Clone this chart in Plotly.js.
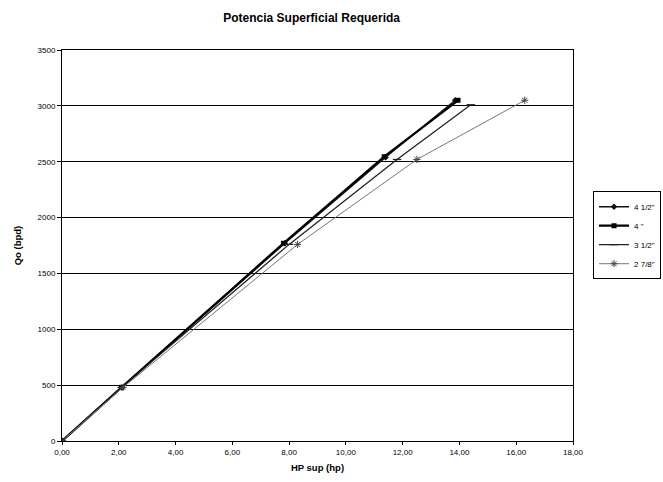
<!DOCTYPE html>
<html>
<head>
<meta charset="utf-8">
<script src="https://cdn.plot.ly/plotly-3.0.1.min.js"></script>
<style>html,body{margin:0;padding:0;background:#fff;}#chart{width:663px;height:482px;}</style>
</head>
<body>
<div id="chart"></div>
<script>
// Data
const seriesNames = ['4 1/2"', '4 "', '3 1/2"', '2 7/8"'];
const hp_4_1_2 = [0, 2.1, 7.85, 11.4, 13.85];
const qo_4_1_2 = [0, 480, 1770, 2540, 3050];
const hp_4 = [0, 2.1, 7.8, 11.35, 13.95];
const qo_4 = [0, 480, 1770, 2545, 3050];
const hp_3_1_2 = [0, 2.1, 8.0, 11.8, 14.4];
const qo_3_1_2 = [0, 480, 1760, 2520, 3010];
const hp_2_7_8 = [0, 2.15, 8.3, 12.5, 16.3];
const qo_2_7_8 = [0, 480, 1760, 2520, 3050];
const xTicks = [0, 2, 4, 6, 8, 10, 12, 14, 16, 18];
const yTicks = [0, 500, 1000, 1500, 2000, 2500, 3000, 3500];

const traces = [
  {x: hp_4_1_2, y: qo_4_1_2, name: seriesNames[0], mode: 'lines+markers',
   line: {color: '#111', width: 1.5}, marker: {symbol: 'diamond', size: 5, color: '#111'}},
  {x: hp_4, y: qo_4, name: seriesNames[1], mode: 'lines+markers',
   line: {color: '#000', width: 2.2}, marker: {symbol: 'square', size: 5, color: '#000'}},
  {x: hp_3_1_2, y: qo_3_1_2, name: seriesNames[2], mode: 'lines+markers',
   line: {color: '#222', width: 1.3}, marker: {symbol: 'line-ew-open', size: 6, color: '#222', line: {width: 1.3, color: '#222'}}},
  {x: hp_2_7_8, y: qo_2_7_8, name: seriesNames[3], mode: 'lines+markers',
   line: {color: '#777', width: 1}, marker: {symbol: 'asterisk-open', size: 6, color: '#444', line: {width: 1, color: '#444'}}}
];

const layout = {
  width: 663, height: 482,
  paper_bgcolor: '#fff', plot_bgcolor: '#fff',
  separators: ',.',
  margin: {l: 62, r: 90, t: 50, b: 41},
  font: {family: 'Liberation Sans, Arial, sans-serif', color: '#000', size: 8},
  title: {text: '<b>Potencia Superficial Requerida</b>', x: 0.47, xanchor: 'center', y: 0.963, yanchor: 'middle',
          font: {size: 12, family: 'Liberation Sans, Arial, sans-serif', color: '#000'}},
  xaxis: {
    range: [0, 18], tickvals: xTicks, tickformat: '.2f',
    showgrid: false, zeroline: false, showline: true, linecolor: '#000', linewidth: 1, mirror: true,
    ticks: 'outside', ticklen: 3, tickcolor: '#000',
    tickfont: {size: 8, family: 'Liberation Sans, Arial, sans-serif'},
    title: {text: '<b>HP sup (hp)</b>', font: {size: 9.5}, standoff: 8}
  },
  yaxis: {
    range: [0, 3500], tickvals: yTicks, tickformat: 'd',
    showgrid: true, gridcolor: '#000', gridwidth: 1, zeroline: false,
    showline: true, linecolor: '#000', linewidth: 1, mirror: true,
    ticks: 'outside', ticklen: 4, tickcolor: '#000',
    tickfont: {size: 8, family: 'Liberation Sans, Arial, sans-serif'},
    title: {text: '<b>Qo (bpd)</b>', font: {size: 9.5}, standoff: 14}
  },
  showlegend: true,
  legend: {xref: 'container', yref: 'container', x: 0.997, xanchor: 'right', y: 0.512, yanchor: 'middle',
           bordercolor: '#000', borderwidth: 1, bgcolor: '#fff',
           font: {size: 8, family: 'Liberation Sans, Arial, sans-serif'},
           tracegroupgap: 0, itemwidth: 30}
};

Plotly.newPlot('chart', traces, layout, {displayModeBar: false, staticPlot: true});
</script>
</body>
</html>
